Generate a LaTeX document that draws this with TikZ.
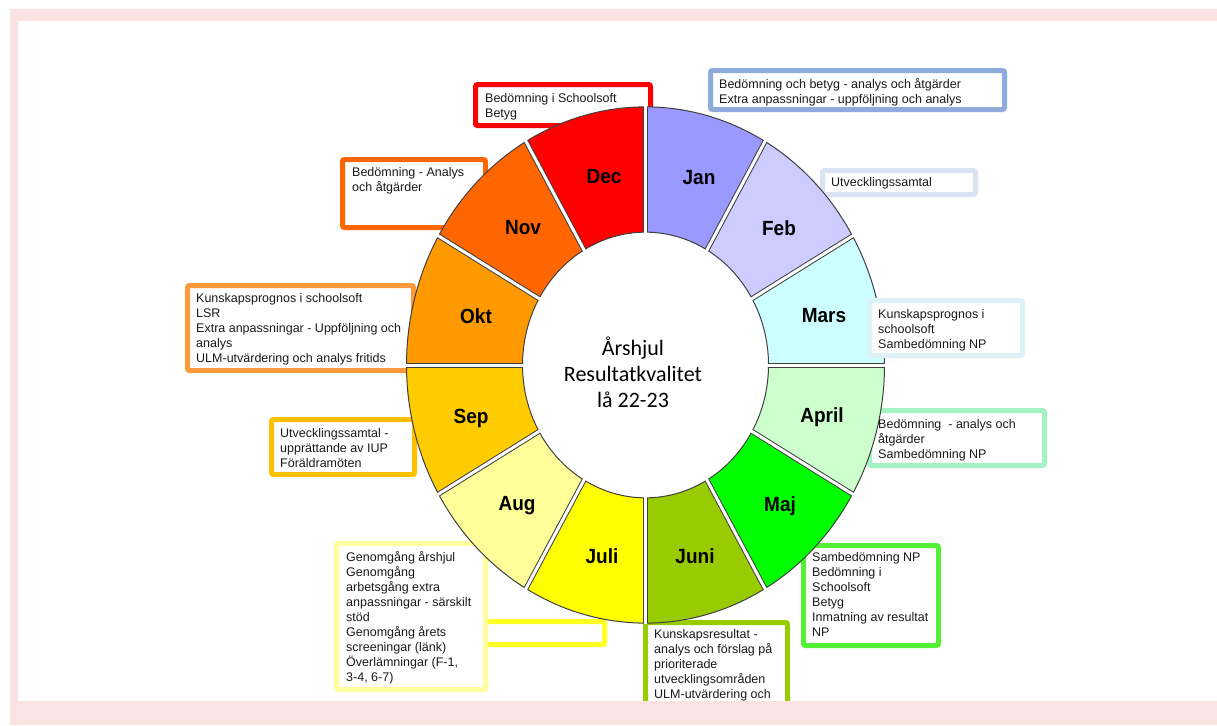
\documentclass[tikz,border=0pt]{standalone}
\usepackage{fontspec}
\setmainfont{Liberation Sans}
\newfontfamily\calfont{Carlito}
\definecolor{cJan}{HTML}{9999FF}
\definecolor{cFeb}{HTML}{CCCCFF}
\definecolor{cMar}{HTML}{CCFFFF}
\definecolor{cApr}{HTML}{CCFFCC}
\definecolor{cMaj}{HTML}{00FF00}
\definecolor{cJun}{HTML}{99CC00}
\definecolor{cJul}{HTML}{FFFF00}
\definecolor{cAug}{HTML}{FFFF99}
\definecolor{cSep}{HTML}{FFCC00}
\definecolor{cOkt}{HTML}{FF9900}
\definecolor{cNov}{HTML}{FF6600}
\definecolor{cDec}{HTML}{FF0000}
\definecolor{bJan}{HTML}{8FAADC}
\definecolor{bFeb}{HTML}{DAE3F3}
\definecolor{bMar}{HTML}{DCF2F6}
\definecolor{bApr}{HTML}{A3F2C4}
\definecolor{bMaj}{HTML}{55F035}
\definecolor{bJun}{HTML}{99CC00}
\definecolor{bJul}{HTML}{FFFF22}
\definecolor{bAug}{HTML}{FFFFA0}
\definecolor{bSep}{HTML}{FFC000}
\definecolor{bOkt}{HTML}{FF9A3C}
\definecolor{bNov}{HTML}{FF6600}
\definecolor{bDec}{HTML}{FF0000}
\definecolor{olin}{HTML}{404040}
\definecolor{txt}{HTML}{1A1A1A}
\definecolor{frame}{HTML}{FBE3E3}
\begin{document}
\begin{tikzpicture}[x=1pt,y=1pt,
  mbox/.style={line width=5pt, fill=white, rounded corners=2pt},
  btxt/.style={anchor=north west, inner sep=0pt, align=left, text=txt,
    font=\fontsize{12.5}{15}\selectfont},
  mlab/.style={inner sep=0pt, font=\fontsize{19}{20}\selectfont\bfseries, text=black},
  sector/.style={draw=olin, line width=1pt}]
\useasboundingbox (0,0) rectangle (1217,-725);
\fill[white] (0,0) rectangle (1217,-725);

% boxes below the wheel
\draw[mbox, draw=bDec] (475.5,-84.5) rectangle (650.5,-125.5);
\draw[mbox, draw=bJan] (710.5,-70.5) rectangle (1004.5,-109.5);
\draw[mbox, draw=bFeb] (822.5,-170.5) rectangle (975.5,-194.5);
\draw[mbox, draw=bApr] (869.5,-410.5) rectangle (1044.5,-465.5);
\draw[mbox, draw=bMaj] (803.5,-545.5) rectangle (938.5,-645.5);
\draw[mbox, draw=bJun] (645.5,-622.5) rectangle (787.5,-720);
\draw[mbox, draw=bJul] (484.5,-621.5) rectangle (604.5,-644.5);
\draw[mbox, draw=bAug] (336.5,-543.5) rectangle (485.5,-689.5);
\draw[mbox, draw=bSep] (271.5,-419.5) rectangle (414.5,-474.5);
\draw[mbox, draw=bOkt] (187.5,-285.5) rectangle (413.5,-370.5);
\draw[mbox, draw=bNov] (342.5,-159.5) rectangle (485.5,-227.5);

% wheel
\begin{scope}[shift={(645.5,-365)}, yscale=1.08]
  \foreach \a/\c in {60/cJan,30/cFeb,0/cMar,-30/cApr,-60/cMaj,-90/cJun,-120/cJul,-150/cAug,-180/cSep,150/cOkt,120/cNov,90/cDec}
    \filldraw[sector, fill=\c] (\a:123) arc[start angle=\a, end angle=\a+30, radius=123]
      -- (\a+30:239) arc[start angle=\a+30, end angle=\a, radius=239] -- cycle;
  \foreach \a in {0,30,...,330} {
    \draw[olin, line width=5pt] (\a:123) -- (\a:239);
    \draw[white, line width=3pt] (\a:122) -- (\a:240);
  }
\end{scope}

% box above the wheel
\draw[mbox, draw=bMar] (869.5,-300.5) rectangle (1022.5,-355.5);

% month labels
\node[mlab] (lJan) at (699,-178) {\scalebox{1}[1.08]{Jan}};
\node[mlab] (lFeb) at (779,-228) {\scalebox{1}[1.08]{Feb}};
\node[mlab] (lMar) at (824,-316) {\scalebox{1}[1.08]{Mars}};
\node[mlab] (lApr) at (822,-417) {\scalebox{1}[1.08]{April}};
\node[mlab] (lMaj) at (780,-506) {\scalebox{1}[1.08]{Maj}};
\node[mlab] (lJun) at (695,-556) {\scalebox{1}[1.08]{Juni}};
\node[mlab] (lJul) at (602,-556) {\scalebox{1}[1.08]{Juli}};
\node[mlab] (lAug) at (517,-506) {\scalebox{1}[1.08]{Aug}};
\node[mlab] (lSep) at (471,-418) {\scalebox{1}[1.08]{Sep}};
\node[mlab] (lOkt) at (476,-316) {\scalebox{1}[1.08]{Okt}};
\node[mlab] (lNov) at (523,-228) {\scalebox{1}[1.08]{Nov}};
\node[mlab] (lDec) at (604,-177) {\scalebox{1}[1.08]{Dec}};

% center
\node[align=center, inner sep=0pt, text=black, font=\calfont\fontsize{22}{26}\selectfont] (ctr) at (633,-372)
  {Årshjul\\Resultatkvalitet\\lå 22-23};

% box texts
\node[btxt] (tDec) at (485,-93) {Bedömning i Schoolsoft\\Betyg};
\node[btxt] (tJan) at (719,-78) {Bedömning och betyg - analys och åtgärder\\Extra anpassningar - uppföljning och analys};
\node[btxt] (tFeb) at (831,-177) {Utvecklingssamtal};
\node[btxt] (tMar) at (878,-309) {Kunskapsprognos i\\schoolsoft\\Sambedömning NP};
\node[btxt] (tApr) at (878,-419) {Bedömning\ \ - analys och\\åtgärder\\Sambedömning NP};
\node[btxt] (tMaj) at (812,-552) {Sambedömning NP\\Bedömning i\\Schoolsoft\\Betyg\\Inmatning av resultat\\NP};
\node[btxt] (tJun) at (654,-629) {Kunskapsresultat -\\analys och förslag på\\prioriterade\\utvecklingsområden\\ULM-utvärdering och};
\node[btxt] (tAug) at (346,-551) {Genomgång årshjul\\Genomgång\\arbetsgång extra\\anpassningar - särskilt\\stöd\\Genomgång årets\\screeningar (länk)\\Överlämningar (F-1,\\3-4, 6-7)};
\node[btxt] (tSep) at (280,-428) {Utvecklingssamtal -\\upprättande av IUP\\Föräldramöten};
\node[btxt] (tOkt) at (196,-293) {Kunskapsprognos i schoolsoft\\LSR\\Extra anpassningar - Uppföljning och\\analys\\ULM-utvärdering och analys fritids};
\node[btxt] (tNov) at (352,-167) {Bedömning - Analys\\och åtgärder};

% frame
\fill[frame, even odd rule] (10,-9) rectangle (1217,-725) (18,-21) rectangle (1217,-701);
\end{tikzpicture}
\end{document}
